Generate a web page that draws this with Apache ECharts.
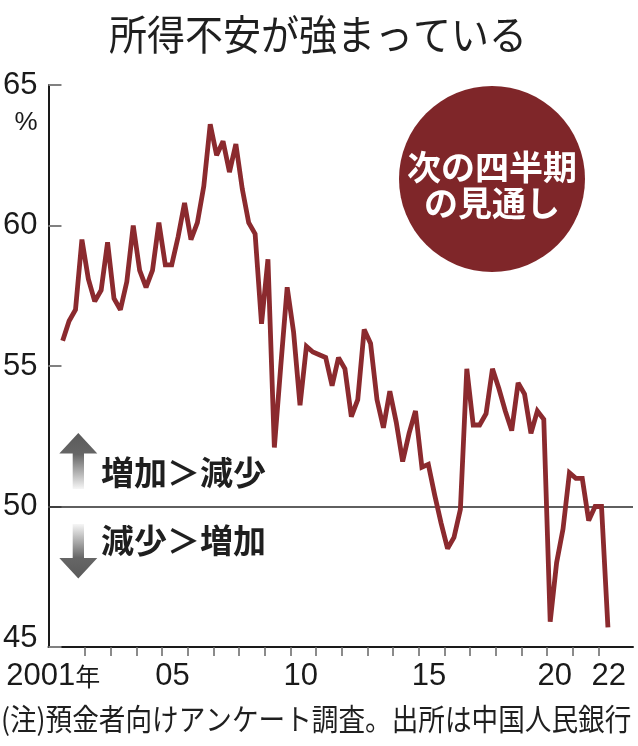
<!DOCTYPE html>
<html>
<head>
<meta charset="utf-8">
<script src="https://cdn.jsdelivr.net/npm/echarts@6/dist/echarts.min.js"></script>
<style>
html,body{margin:0;padding:0;background:#fff;}
#chart{width:638px;height:746px;}
</style>
</head>
<body>
<div id="chart"></div>
<script>
// ---- data (quarterly, 2001Q1 .. 2022Q2) ----
const firstYear = 2001;
const quarterCount = 86;
const quarters = [];
for (let k = 0; k < quarterCount; k++) {
  quarters.push((firstYear + Math.floor(k / 4)) + 'Q' + (k % 4 + 1));
}
const values = [
  55.9, 56.6, 57.0, 59.5,   // 2001
  58.1, 57.3, 57.7, 59.4,   // 2002
  57.4, 57.0, 58.0, 60.0,   // 2003
  58.4, 57.8, 58.4, 60.1,   // 2004
  58.6, 58.6, 59.6, 60.8,   // 2005
  59.5, 60.1, 61.4, 63.6,   // 2006
  62.5, 63.0, 61.9, 62.9,   // 2007
  61.3, 60.1, 59.7, 56.5,   // 2008
  58.8, 52.1, 55.0, 57.8,   // 2009
  56.2, 53.6, 55.7, 55.5,   // 2010
  55.4, 55.3, 54.3, 55.3,   // 2011
  54.9, 53.2, 53.8, 56.3,   // 2012
  55.8, 53.8, 52.8, 54.1,   // 2013
  53.0, 51.6, 52.6, 53.4,   // 2014
  51.4, 51.5, 50.4, 49.4,   // 2015
  48.5, 48.9, 49.9, 54.9,   // 2016
  52.9, 52.9, 53.3, 54.9,   // 2017
  54.2, 53.4, 52.7, 54.4,   // 2018
  54.0, 52.6, 53.4, 53.1,   // 2019
  45.9, 48.0, 49.2, 51.2,   // 2020
  51.0, 51.0, 49.5, 50.0,   // 2021
  50.0, 45.7                // 2022
];
const yTicks = [45, 50, 55, 60, 65];
const refLevel = 50;
const xLabelYears = [2001, 2005, 2010, 2015, 2020, 2022];
const xLabelTexts = ['2001年', '05', '10', '15', '20', '22'];
const tickYears = [];
for (let y = 2002; y <= 2022; y++) tickYears.push(y);

const titleText = '所得不安が強まっている';
const unitText = '%';
const circleText = '次の四半期\nの見通し';
const upText = '増加＞減少';
const downText = '減少＞増加';
const noteText = '(注)預金者向けアンケート調査。出所は中国人民銀行';

// ---- build ----
const seriesData = quarters.map((q, i) => {
  const yr = parseInt(q.slice(0, 4), 10);
  const qn = parseInt(q.slice(5), 10);
  return [yr + (qn - 0.5) / 4, values[i]];
});

const NUM = '"Liberation Sans",Arial,sans-serif';
const JP = '"Noto Sans CJK JP","Noto Sans CJK SC",sans-serif';
const lineColor = '#8b2a2e';

const chart = echarts.init(document.getElementById('chart'), null, {renderer: 'canvas'});

const option = {
  animation: false,
  backgroundColor: '#ffffff',
  grid: {left: 48, right: 5, top: 85, bottom: 99, containLabel: false},
  xAxis: {
    type: 'value',
    min: 2000.572,
    max: 2023.352,
    splitLine: {show: false},
    axisLine: {show: true, onZero: false, lineStyle: {color: '#1a1a1a', width: 2}},
    axisTick: {
      show: true, inside: false, length: 9,
      customValues: tickYears,
      lineStyle: {color: '#666', width: 1.5}
    },
    axisLabel: {
      show: true,
      customValues: xLabelYears.map(y => y + 0.5),
      margin: 14,
      color: '#1a1a1a',
      fontFamily: NUM,
      fontSize: 31,
      formatter: function (v) {
        const idx = xLabelYears.indexOf(Math.round(v - 0.5));
        if (idx < 0) return '';
        if (idx === 0) return '{first|' + xLabelTexts[idx].slice(0, 4) + '}{nen|' + xLabelTexts[idx].slice(4) + '}';
        if (idx === 4) return '{shift|' + xLabelTexts[idx] + '}';
        return '{norm|' + xLabelTexts[idx] + '}';
      },
      rich: {
        first: {fontFamily: NUM, fontSize: 31, color: '#1a1a1a'},
        nen: {fontFamily: JP, fontSize: 25, color: '#1a1a1a', padding: [0, 38, 0, 0]},
        shift: {fontFamily: NUM, fontSize: 31, color: '#1a1a1a', padding: [0, 10, 0, 0]},
        norm: {fontFamily: NUM, fontSize: 31, color: '#1a1a1a', padding: [0, 5, 0, 0]}
      }
    }
  },
  yAxis: {
    type: 'value',
    min: yTicks[0],
    max: yTicks[yTicks.length - 1],
    interval: 5,
    splitLine: {show: false},
    axisLine: {show: true, lineStyle: {color: '#1a1a1a', width: 2}},
    axisTick: {show: true, inside: true, length: 13, lineStyle: {color: '#808080', width: 2}},
    axisLabel: {
      margin: 11,
      color: '#1a1a1a',
      fontFamily: NUM,
      fontSize: 31,
      formatter: function (v) {
        if (v === yTicks[0]) return '{low|' + v + '}';
        return String(v);
      },
      rich: {
        low: {fontFamily: NUM, fontSize: 31, color: '#1a1a1a', padding: [0, 0, 18, 0]}
      }
    }
  },
  series: [{
    type: 'line',
    data: seriesData,
    symbol: 'none',
    smooth: false,
    z: 5,
    lineStyle: {color: lineColor, width: 4.8, join: 'miter', miterLimit: 2.5},
    markLine: {
      silent: true,
      symbol: ['none', 'none'],
      label: {show: false},
      z: 3,
      lineStyle: {color: '#2a2a2a', width: 1.5, type: 'solid'},
      data: [{yAxis: refLevel}]
    }
  }],
  graphic: [
    {
      type: 'text', x: 318, y: 34, scaleY: 1.08,
      style: {text: titleText, font: '38px ' + JP, fill: '#1f1f1f', align: 'center', verticalAlign: 'middle'}
    },
    {
      type: 'text', x: 26, y: 123,
      style: {text: unitText, font: '26px ' + NUM, fill: '#1a1a1a', align: 'center', verticalAlign: 'middle'}
    },
    {
      type: 'circle', shape: {cx: 492, cy: 179, r: 93},
      style: {fill: '#7f2629'}
    },
    {
      type: 'text', x: 492, y: 185,
      style: {text: circleText, font: 'bold 34px ' + JP, fill: '#ffffff', align: 'center', verticalAlign: 'middle', lineHeight: 36}
    },
    {
      type: 'polygon',
      shape: {points: [[78.3, 433], [97.3, 453.5], [84, 453.5], [84, 489], [72.7, 489], [72.7, 453.5], [59.3, 453.5]]},
      style: {fill: new echarts.graphic.LinearGradient(0, 0, 0, 1, [
        {offset: 0, color: '#5a5a5a'}, {offset: 0.38, color: '#666666'}, {offset: 1, color: '#f6f6f6'}
      ])}
    },
    {
      type: 'polygon',
      shape: {points: [[78.3, 578.5], [97.3, 558], [84, 558], [84, 524], [72.7, 524], [72.7, 558], [59.3, 558]]},
      style: {fill: new echarts.graphic.LinearGradient(0, 0, 0, 1, [
        {offset: 0, color: '#f6f6f6'}, {offset: 0.62, color: '#666666'}, {offset: 1, color: '#5a5a5a'}
      ])}
    },
    {
      type: 'text', x: 101, y: 472,
      style: {text: upText, font: 'bold 33px ' + JP, fill: '#1f1f1f', align: 'left', verticalAlign: 'middle'}
    },
    {
      type: 'text', x: 101, y: 540,
      style: {text: downText, font: 'bold 33px ' + JP, fill: '#1f1f1f', align: 'left', verticalAlign: 'middle'}
    },
    {
      type: 'text', x: 1, y: 719, scaleX: 0.972, scaleY: 1.08,
      style: {text: noteText, font: '27.4px ' + JP, fill: '#1f1f1f', align: 'left', verticalAlign: 'middle'}
    }
  ]
};
chart.setOption(option);
</script>
</body>
</html>
